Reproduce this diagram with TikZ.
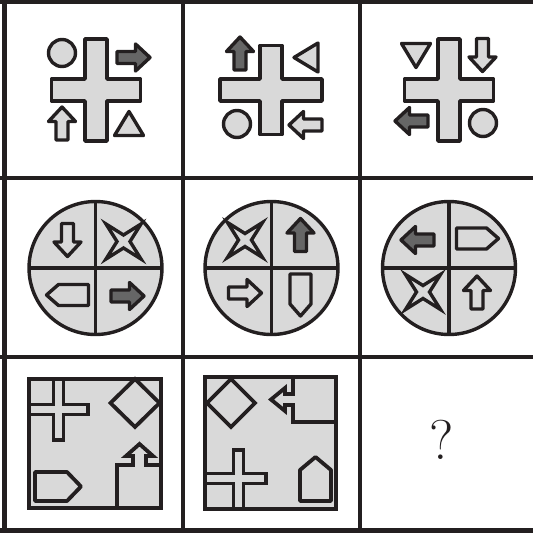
\documentclass[tikz,border=0pt]{standalone}
\usetikzlibrary{calc}
\definecolor{ink}{HTML}{231F20}
\definecolor{lite}{HTML}{D9D9D9}
\definecolor{dark}{HTML}{666666}

\begin{document}
\begin{tikzpicture}[
  x=1pt,y=-1pt,
  grid/.style={draw=ink,line width=4.5pt},
  shp/.style={draw=ink,line width=3.4pt,line join=round,fill=lite},
  blk/.style={draw=ink,line width=4pt,line join=miter,fill=lite},
  pics/arrowup/.style={code={
    \path[shp,fill=#1] (0,-16.5) -- (13.5,-2) -- (6,-2) -- (6,16.5)
      -- (-6,16.5) -- (-6,-2) -- (-13.5,-2) -- cycle;}},
  pics/arrowup/.default=lite,
  pics/plus/.style={code={
    \path[shp] (-11,-51) -- (11,-51) -- (11,-11) -- (44.5,-11) -- (44.5,11)
      -- (11,11) -- (11,51) -- (-11,51) -- (-11,11) -- (-44.5,11)
      -- (-44.5,-11) -- (-11,-11) -- cycle;}},
  pics/tri/.style={code={
    \path[shp] (0,-12) -- (14.5,12) -- (-14.5,12) -- cycle;}},
  pics/tag/.style={code={
    \path[shp] (0,-21) -- (10.5,-9) -- (10.5,21) -- (-10.5,21)
      -- (-10.5,-9) -- cycle;}},
  pics/star/.style={code={
    \path[shp,line join=miter] (-17.5,-17.5) -- (0,-6.5) -- (17.5,-17.5) -- (6.5,0)
      -- (17.5,17.5) -- (0,6.5) -- (-17.5,17.5) -- (-6.5,0) -- cycle;}}
]
\clip (0,0) rectangle (533,533);

% ---------- grid
\foreach \x in {4.5,183,360,537} \draw[grid] (\x,-5) -- (\x,540);
\foreach \y in {1.5,178,357,530.5} \draw[grid] (-5,\y) -- (540,\y);

% ---------- row 1: crosses with four small shapes
\pic at (96,90) {plus};
\pic[rotate=90] at (271,90) {plus};
\pic at (449,90) {plus};
\foreach \x/\y in {62/53, 237/124, 483/123}
  \draw[shp] (\x,\y) circle[radius=13.5];
\pic[rotate=-90] at (133.5,57.5) {arrowup=dark};
\pic at (62,123.5) {arrowup};
\pic at (129,123.5) {tri};
\pic at (240,53.5) {arrowup=dark};
\pic[rotate=90] at (306,57.5) {tri};
\pic[rotate=90] at (305.5,125) {arrowup};
\pic[rotate=180] at (416,55.5) {tri};
\pic[rotate=180] at (482.5,55) {arrowup};
\pic[rotate=90] at (411.5,121) {arrowup=dark};

% ---------- row 2: discs in quarters
\foreach \x in {95.5,271.5,449}{
  \draw[shp] (\x,268) circle[radius=66.5];
  \draw[draw=ink,line width=3.4pt] (\x-66.5,268) -- (\x+66.5,268);
  \draw[draw=ink,line width=3.4pt] (\x,201.5) -- (\x,334.5);
}
\pic[rotate=180] at (67.5,240) {arrowup};
\pic at (123.5,241.5) {star};
\pic[rotate=90] at (67.5,295) {tag};
\pic[rotate=-90] at (127.5,296) {arrowup=dark};
\pic at (245,240) {star};
\pic at (300.5,235) {arrowup=dark};
\pic[rotate=-90] at (245,293) {arrowup};
\pic[rotate=180] at (300.5,295) {tag};
\pic[rotate=90] at (417.5,240) {arrowup=dark};
\pic[rotate=-90] at (477.5,238.5) {tag};
\pic at (423,292) {star};
\pic at (477,292.5) {arrowup};

% ---------- row 3: framed squares
\fill[lite] (29,379) rectangle (161,508);
\begin{scope}
  \clip (29,379) rectangle (161,508);
  \path[blk,line width=3.8pt] (53.5,360) -- (63.5,360) -- (63.5,404.5) -- (88,404.5)
    -- (88,414.5) -- (63.5,414.5) -- (63.5,440) -- (53.5,440) -- (53.5,414.5)
    -- (10,414.5) -- (10,404.5) -- (53.5,404.5) -- cycle;
  \path[blk,line width=3.8pt] (117,520) -- (117,465) -- (133,465) -- (133,456)
    -- (126,456) -- (139.5,444) -- (153,456) -- (146,456) -- (146,465) -- (170,465)
    -- (170,520) -- cycle;
\end{scope}
\path[blk,line width=3.8pt] (135,379) -- (159.5,403) -- (135,427) -- (110.5,403) -- cycle;
\path[blk,line width=3.8pt,line join=round] (35,472) -- (67,472) -- (81,486.5) -- (67,501)
  -- (35,501) -- cycle;
\draw[blk,fill=none] (29,379) rectangle (161,508);

\fill[lite] (205,377) rectangle (336,509);
\begin{scope}
  \clip (205,377) rectangle (336,509);
  \path[blk,line width=3.8pt] (233.5,450) -- (243.5,450) -- (243.5,473.5) -- (266,473.5)
    -- (266,483.5) -- (243.5,483.5) -- (243.5,520) -- (233.5,520) -- (233.5,483.5)
    -- (190,483.5) -- (190,473.5) -- (233.5,473.5) -- cycle;
  \path[blk,line width=3.8pt] (345,422) -- (293,422) -- (293,405) -- (285,405)
    -- (285,411) -- (271,399.5) -- (285,388) -- (285,394) -- (293,394) -- (293,370)
    -- (345,370) -- cycle;
\end{scope}
\path[blk,line width=3.8pt] (231,379) -- (255,403) -- (231,427) -- (207,403) -- cycle;
\path[blk,line width=3.8pt,line join=round] (300,501) -- (300,470) -- (315.5,457)
  -- (331,470) -- (331,501) -- cycle;
\draw[blk,fill=none] (205,377) rectangle (336,509);

% ---------- missing cell
\node[font=\fontsize{56}{60}\selectfont,text=ink] (q) at (442,440) {?};
\end{tikzpicture}
\end{document}
